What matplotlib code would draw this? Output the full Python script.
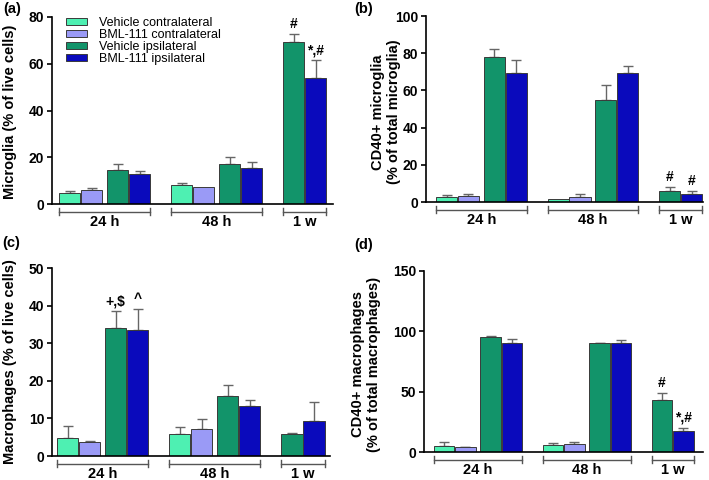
import numpy as np
import matplotlib
matplotlib.use('Agg')
import matplotlib.pyplot as plt
from matplotlib.patches import Patch
import matplotlib.transforms as mtransforms

plt.rcParams['font.family'] = ['Liberation Sans', 'DejaVu Sans']

nan = np.nan

groups = ['24 h', '48 h', '1 w']
series = ['Vehicle contralateral', 'BML-111 contralateral',
          'Vehicle ipsilateral', 'BML-111 ipsilateral']
colors = ['#4ef0b2', '#9a9af6', '#12946a', '#0a0abc']

# (a) Microglia (% of live cells)
mg_veh_contra = [4.8, 8.1, nan]
mg_bml_contra = [5.9, 7.1, nan]
mg_veh_ipsi = [14.6, 17.0, 69.1]
mg_bml_ipsi = [13.0, 15.6, 54.0]
mg_veh_contra_err = [0.9, 0.9, nan]
mg_bml_contra_err = [0.8, 0.1, nan]
mg_veh_ipsi_err = [2.5, 3.1, 3.6]
mg_bml_ipsi_err = [1.1, 2.3, 7.4]

# (b) CD40+ microglia (% of total microglia)
cmg_veh_contra = [2.9, 1.6, nan]
cmg_bml_contra = [3.2, 2.7, nan]
cmg_veh_ipsi = [78.0, 54.9, 5.9]
cmg_bml_ipsi = [69.6, 69.4, 4.3]
cmg_veh_contra_err = [1.0, 0.0, nan]
cmg_bml_contra_err = [1.1, 1.8, nan]
cmg_veh_ipsi_err = [4.3, 8.2, 2.3]
cmg_bml_ipsi_err = [6.8, 3.6, 1.6]

# (c) Macrophages (% of live cells)
mp_veh_contra = [4.7, 5.8, nan]
mp_bml_contra = [3.8, 7.2, nan]
mp_veh_ipsi = [34.0, 16.0, 5.8]
mp_bml_ipsi = [33.5, 13.3, 9.4]
mp_veh_contra_err = [3.4, 1.9, nan]
mp_bml_contra_err = [0.3, 2.7, nan]
mp_veh_ipsi_err = [4.6, 2.9, 0.4]
mp_bml_ipsi_err = [5.6, 1.6, 5.0]

# (d) CD40+ macrophages (% of total macrophages)
cmp_veh_contra = [5.0, 5.8, nan]
cmp_bml_contra = [3.9, 6.4, nan]
cmp_veh_ipsi = [95.0, 90.1, 43.1]
cmp_bml_ipsi = [90.3, 90.3, 17.7]
cmp_veh_contra_err = [3.0, 1.7, nan]
cmp_bml_contra_err = [0.5, 1.9, nan]
cmp_veh_ipsi_err = [1.1, 0.2, 5.8]
cmp_bml_ipsi_err = [3.1, 2.5, 2.5]

# significance marks: (series index, group index, text)
marks_a = [(2, 2, '#'), (3, 2, '*,#')]
marks_b = [(2, 2, '#'), (3, 2, '#')]
marks_c = [(2, 0, '+,$'), (3, 0, '^')]
marks_d = [(2, 2, '#'), (3, 2, '*,#')]

W, H = 709, 480
fig = plt.figure(figsize=(W / 100, H / 100), dpi=100)

group_step = 5.26
offsets = [0, 1.03, 2.25, 3.28]


def bar_x(s, g):
    x = g * group_step + offsets[s]
    if g == 2:  # only ipsilateral bars at 1 w
        x -= 2.25
    return x


def panel(box, ylim, yticks, xlim, means, errs, marks, letter, ylabel, label_xy, letter_xy):
    l, r, t, b = box
    ax = fig.add_axes([l / W, 1 - b / H, (r - l) / W, (b - t) / H])
    hpx = b - t
    for s in range(4):
        for g in range(3):
            v = means[s][g]
            if np.isnan(v):
                continue
            x = bar_x(s, g)
            ax.bar(x, v, width=1.0, align='edge', color=colors[s],
                   edgecolor='#3a3a3a', linewidth=0.7, zorder=2)
            e = errs[s][g]
            if e > 0.15:
                ax.errorbar(x + 0.5, v, yerr=[[0], [e]], fmt='none',
                            ecolor='#666666', elinewidth=1.0, capsize=3.3,
                            capthick=1.0, zorder=1)
    for s, g, txt in marks:
        x = bar_x(s, g) + 0.5
        top = means[s][g] + errs[s][g]
        ax.annotate(txt, (x, top), xytext=(0, 2), textcoords='offset points',
                    ha='center', va='bottom', fontsize=10, fontweight='bold')
    ax.set_xlim(*xlim)
    ax.set_ylim(*ylim)
    ax.set_yticks(yticks)
    ax.set_xticks([])
    for sp in ['top', 'right']:
        ax.spines[sp].set_visible(False)
    for sp in ['left', 'bottom']:
        ax.spines[sp].set_linewidth(1.2)
    ax.tick_params(axis='y', length=3.5, width=1.2, labelsize=10, pad=2)
    for lab in ax.get_yticklabels():
        lab.set_fontweight('bold')
    # group brackets under the axis
    trans = mtransforms.blended_transform_factory(ax.transData, ax.transAxes)
    yb = -7.5 / hpx
    dy = 3.5 / hpx
    for g, name in enumerate(groups):
        x0 = g * group_step
        x1 = x0 + (4.28 if g < 2 else 2.03)
        kw = dict(color='#555555', lw=1.0, transform=trans, clip_on=False)
        ax.plot([x0, x1], [yb, yb], **kw)
        ax.plot([x0, x0], [yb - dy, yb + dy], **kw)
        ax.plot([x1, x1], [yb - dy, yb + dy], **kw)
        ax.text((x0 + x1) / 2, -18.5 / hpx, name, transform=trans,
                ha='center', va='center', fontsize=10.5, fontweight='bold')
    fig.text(label_xy[0] / W, 1 - label_xy[1] / H, ylabel, rotation=90,
             ha='center', va='center', fontsize=10.5, fontweight='bold',
             multialignment='center', linespacing=1.1)
    fig.text(letter_xy[0] / W, 1 - letter_xy[1] / H, letter,
             ha='center', va='center', fontsize=10.5, fontweight='bold')
    return ax


ax_a = panel((52, 333, 17, 204), (0, 80), [0, 20, 40, 60, 80], (-0.33, 12.86),
             [mg_veh_contra, mg_bml_contra, mg_veh_ipsi, mg_bml_ipsi],
             [mg_veh_contra_err, mg_bml_contra_err, mg_veh_ipsi_err, mg_bml_ipsi_err],
             marks_a, '(a)', 'Microglia (% of live cells)', (10, 112), (12, 9))

ax_b = panel((426, 703, 16, 202), (0, 100), [0, 20, 40, 60, 80, 100], (-0.47, 12.59),
             [cmg_veh_contra, cmg_bml_contra, cmg_veh_ipsi, cmg_bml_ipsi],
             [cmg_veh_contra_err, cmg_bml_contra_err, cmg_veh_ipsi_err, cmg_bml_ipsi_err],
             marks_b, '(b)', 'CD40+ microglia\n(% of total microglia)', (386, 112), (364, 9))

ax_c = panel((52, 330, 268, 456), (0, 50), [0, 10, 20, 30, 40, 50], (-0.23, 12.8),
             [mp_veh_contra, mp_bml_contra, mp_veh_ipsi, mp_bml_ipsi],
             [mp_veh_contra_err, mp_bml_contra_err, mp_veh_ipsi_err, mp_bml_ipsi_err],
             marks_c, '(c)', 'Macrophages (% of live cells)', (10, 362), (11, 243))

ax_d = panel((424, 703, 271, 452), (0, 150), [0, 50, 100, 150], (-0.47, 13.0),
             [cmp_veh_contra, cmp_bml_contra, cmp_veh_ipsi, cmp_bml_ipsi],
             [cmp_veh_contra_err, cmp_bml_contra_err, cmp_veh_ipsi_err, cmp_bml_ipsi_err],
             marks_d, '(d)', 'CD40+ macrophages\n(% of total macrophages)', (366, 364), (364, 245))

handles = [Patch(facecolor=c, edgecolor='#3a3a3a', linewidth=0.7) for c in colors]
ax_a.legend(handles, series, loc='upper left', bbox_to_anchor=(0.05, 1.0),
            frameon=False, fontsize=9, borderpad=0, borderaxespad=0,
            handlelength=1.7, handleheight=0.45, handletextpad=0.9,
            labelspacing=0.0)

fig.savefig('out.png', dpi=100)
